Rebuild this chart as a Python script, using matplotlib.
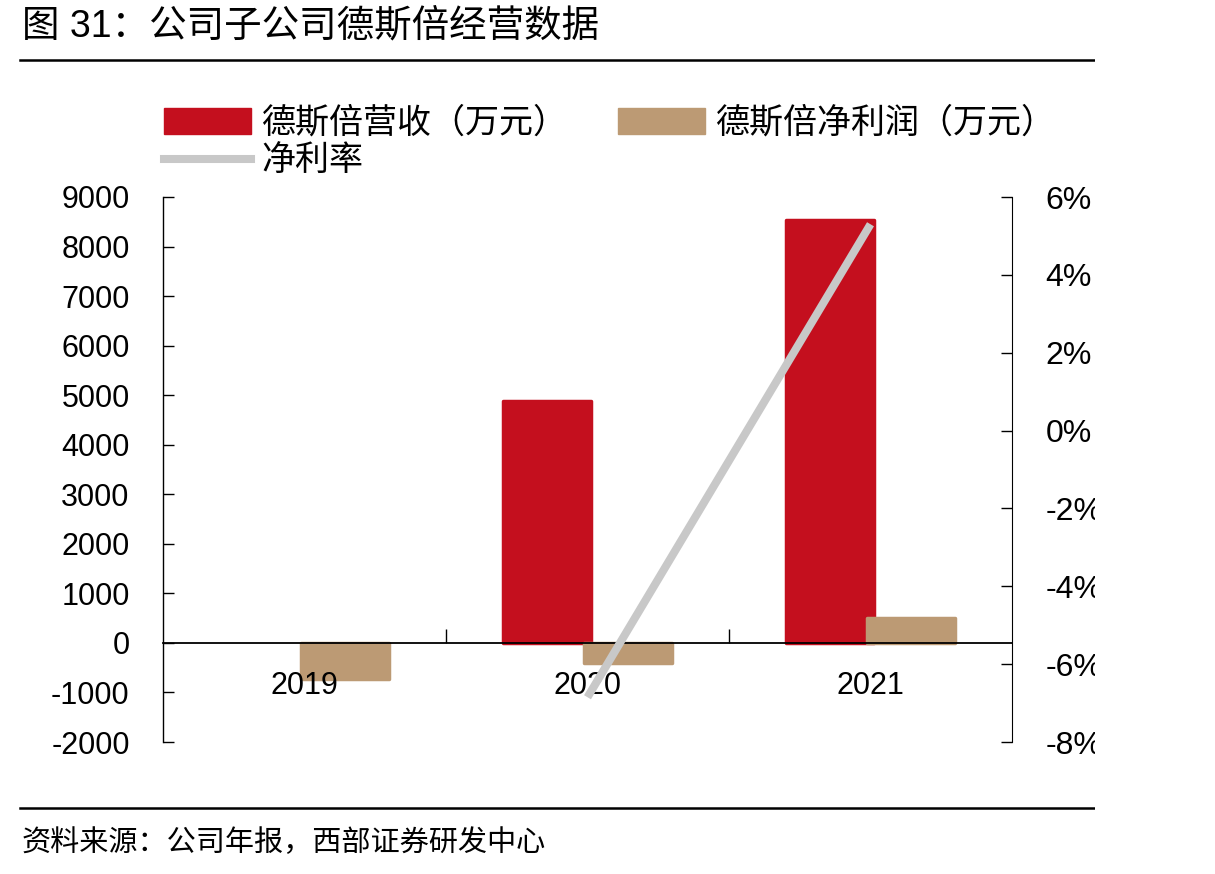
import numpy as np
import matplotlib
matplotlib.use("Agg")
import matplotlib.pyplot as plt
from matplotlib.patches import Rectangle
from matplotlib.lines import Line2D

CJK = ["Liberation Sans", "Noto Sans CJK SC"]
plt.rcParams["font.family"] = CJK
plt.rcParams["axes.unicode_minus"] = False

years = ["2019", "2020", "2021"]
revenue = [np.nan, 4880, 8540]     # 德斯倍营收（万元）, none shown for 2019
profit = [-730, -410, 500]         # 德斯倍净利润（万元）
margin = [np.nan, -6.85, 5.3]      # 净利率 (%)

RED = "#C40F1E"
TAN = "#BC9A74"
GRAY = "#C8C8C8"

W, H = 1215, 874
fig = plt.figure(figsize=(W / 100, H / 100), dpi=100)
ax = fig.add_axes([163 / W, 1 - 742 / H, (1012 - 163) / W, (742 - 197) / H])
ax2 = ax.twinx()

x = np.arange(len(years))
bw, off = 0.31, 0.143
ax.bar(x - off, revenue, bw, color=RED, edgecolor=RED, lw=2.5, joinstyle="round", zorder=1)
ax.bar(x + off, profit, bw, color=TAN, edgecolor=TAN, lw=2.5, joinstyle="round", zorder=1.1)

ax.set_xlim(-0.5, 2.5)
ax.set_ylim(-2000, 9000)
ax.set_yticks(range(-2000, 9001, 1000))
ax.set_xticks(x)
ax.set_xticklabels(years)
ax.set_xticks([0.5, 1.5], minor=True)
for s in ("top", "right"):
    ax.spines[s].set_visible(False)
ax.spines["bottom"].set_position(("data", 0))
ax.spines["bottom"].set_linewidth(1.3)
ax.spines["left"].set_linewidth(1.0)
ax.tick_params(axis="y", direction="in", length=8, width=1, labelsize=22, pad=24)
ax.tick_params(axis="x", which="major", length=0, labelsize=22, pad=20)
ax.tick_params(axis="x", which="minor", direction="in", length=10, width=1)

ax2.plot(x, margin, color=GRAY, lw=5.8, solid_capstyle="butt")
ax2.set_ylim(-8, 6)
ax2.set_yticks(range(-8, 7, 2))
ax2.set_yticklabels([f"{v}%" for v in range(-8, 7, 2)])
for s in ("top", "left", "bottom"):
    ax2.spines[s].set_visible(False)
ax2.tick_params(axis="y", direction="in", length=8, width=1, labelsize=23, pad=24)

handles = [
    Rectangle((0, 0), 1, 1, facecolor=RED, edgecolor=RED),
    Line2D([0], [0], color=GRAY, lw=5.8),
    Rectangle((0, 0), 1, 1, facecolor=TAN, edgecolor=TAN),
]
labels = ["德斯倍营收（万元）", "净利率", "德斯倍净利润（万元）"]
fig.legend(handles, labels, loc="upper left", bbox_to_anchor=(164 / W, 1 - 107 / H),
           ncol=2, frameon=False, fontsize=24.5, handlelength=2.55, handleheight=0.8,
           handletextpad=0.3, columnspacing=1.5, labelspacing=0.2, borderpad=0,
           borderaxespad=0)

fig.text(22 / W, 1 - 26 / H, "图 31：公司子公司德斯倍经营数据", fontsize=27, va="center", ha="left")
fig.add_artist(Line2D([20 / W, 1095 / W], [1 - 60 / H] * 2, color="black", lw=1.8))
fig.add_artist(Line2D([20 / W, 1095 / W], [1 - 808 / H] * 2, color="black", lw=1.8))
fig.text(22 / W, 1 - 843 / H, "资料来源：公司年报，西部证券研发中心", fontsize=21, va="center", ha="left")

# the source image is cut off just right of the right-axis labels
fig.add_artist(Rectangle((1095 / W, 0), 1, 1, transform=fig.transFigure,
                         facecolor="white", edgecolor="none", zorder=10))

fig.savefig("out.png", dpi=100)
